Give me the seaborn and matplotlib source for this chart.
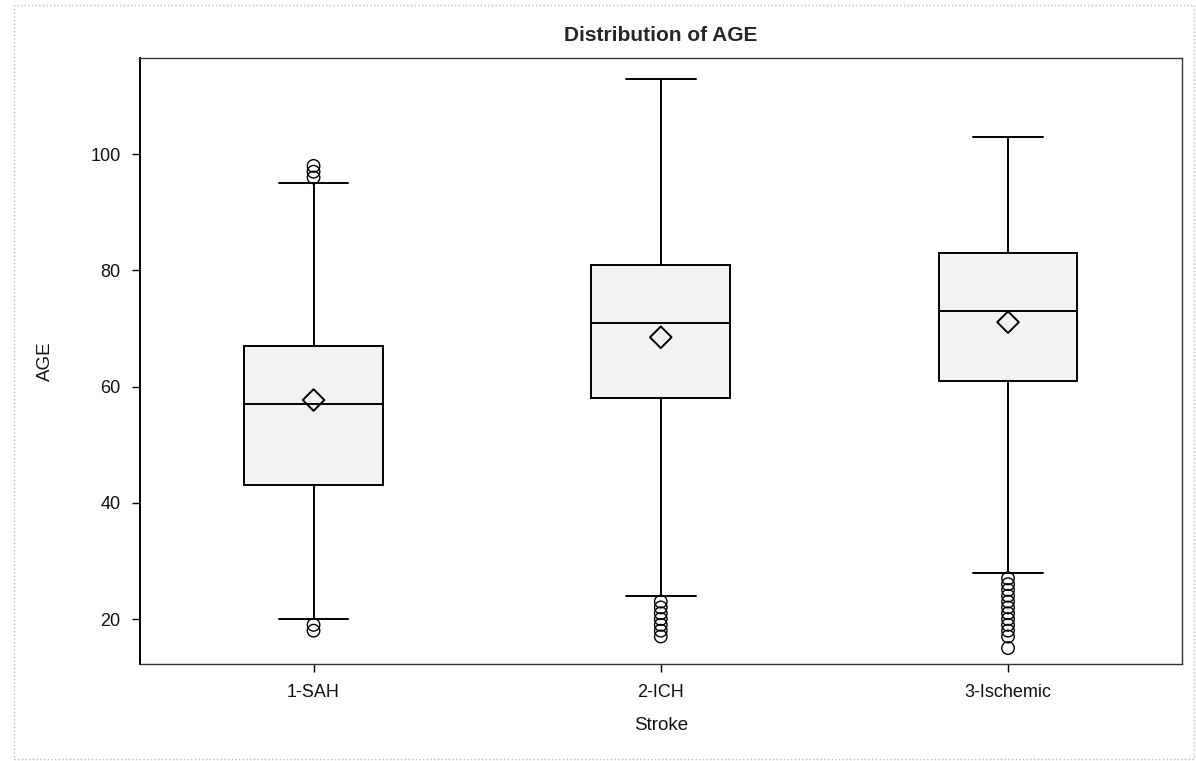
import numpy as np
import pandas as pd
import matplotlib
matplotlib.use("Agg")
import matplotlib.pyplot as plt
from matplotlib.patches import Rectangle
import seaborn as sns

# Box statistics
groups = ["1-SAH", "2-ICH", "3-Ischemic"]
q1 = [43, 58, 61]
medians = [57, 71, 73]
q3 = [67, 81, 83]
means = [57.7, 68.5, 71.1]
whisk_lo = [20, 24, 28]
whisk_hi = [95, 113, 103]

# Outliers per group
sah_out = [18, 19, 96, 97, 98]
ich_out = [17, 18, 19, 20, 21, 22, 23]
isch_out = [15, 17, 18, 19, 20, 21, 22, 23, 24, 25, 26, 27]

sns.set_theme(style="white")
plt.rcParams["font.family"] = ["Liberation Sans", "DejaVu Sans"]

fig = plt.figure(figsize=(11.96, 7.61), dpi=100)
ax = fig.add_axes([0.117, 0.127, 0.871, 0.797])

out_df = pd.DataFrame({
    "Stroke": ["1-SAH"] * len(sah_out) + ["2-ICH"] * len(ich_out) + ["3-Ischemic"] * len(isch_out),
    "AGE": sah_out + ich_out + isch_out,
})
mean_df = pd.DataFrame({"Stroke": groups, "AGE": means})

# outliers and means through seaborn's categorical axis
sns.stripplot(data=out_df, x="Stroke", y="AGE", order=groups, jitter=False,
              marker="o", s=9, facecolors="none", edgecolor="black",
              linewidth=1.0, color="none", ax=ax, zorder=4)
sns.stripplot(data=mean_df, x="Stroke", y="AGE", order=groups, jitter=False,
              marker="D", s=11, facecolors="none", edgecolor="black",
              linewidth=1.4, color="none", ax=ax, zorder=5)

stats = []
for i, g in enumerate(groups):
    stats.append({"label": g, "q1": q1[i], "med": medians[i], "q3": q3[i],
                  "whislo": whisk_lo[i], "whishi": whisk_hi[i], "fliers": []})

ax.bxp(stats, positions=range(len(groups)), widths=0.40, patch_artist=True,
       showfliers=False,
       boxprops=dict(facecolor="#f2f2f2", edgecolor="black", linewidth=1.4),
       medianprops=dict(color="black", linewidth=1.4),
       whiskerprops=dict(color="black", linewidth=1.4),
       capprops=dict(color="black", linewidth=1.4),
       capwidths=0.20, manage_ticks=False)

ax.set_xlim(-0.5, 2.5)
ax.set_ylim(12.2, 116.6)
ax.set_yticks([20, 40, 60, 80, 100])
ax.set_xticks(range(len(groups)))
ax.set_xticklabels(groups)

ax.tick_params(axis="both", direction="out", length=6, width=1, color="black",
               labelsize=13, labelcolor="#111111", pad=8, bottom=True, left=True)
for side in ["left", "bottom", "top", "right"]:
    ax.spines[side].set_visible(True)
    ax.spines[side].set_color("#333333")
    ax.spines[side].set_linewidth(1.0)
ax.spines["left"].set_color("black")
ax.spines["left"].set_linewidth(1.4)

ax.set_xlabel("Stroke", fontsize=13.5, color="#111111", labelpad=12)
ax.set_ylabel("AGE", fontsize=13.5, color="#111111", labelpad=26)
ax.set_title("Distribution of AGE", fontsize=15, fontweight="bold", pad=12)

# light dotted frame round the whole picture
fig.patches.append(Rectangle((0.012, 0.003), 0.986, 0.99, transform=fig.transFigure,
                             fill=False, edgecolor="#bbbbbb", linestyle=":", linewidth=1))

fig.savefig("out.png", dpi=100)
